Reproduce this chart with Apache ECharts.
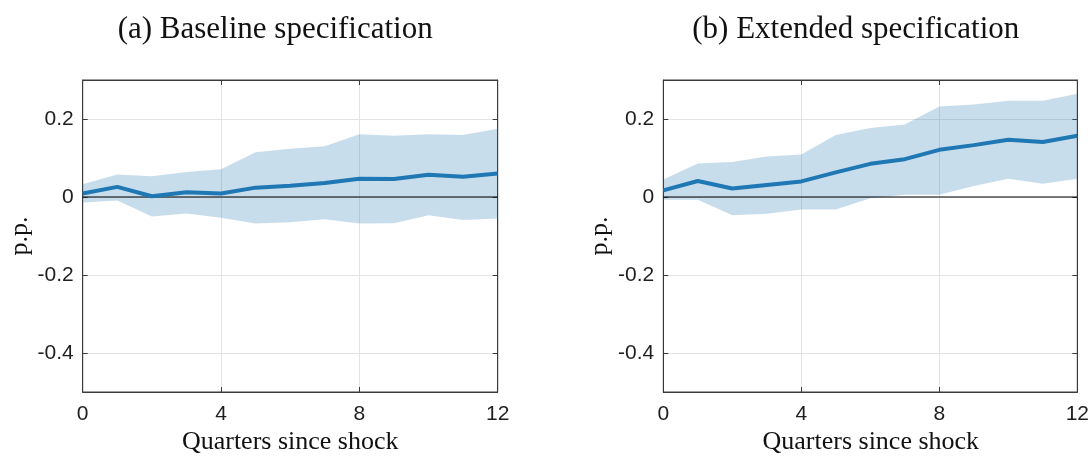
<!DOCTYPE html>
<html><head><meta charset="utf-8">
<script src="https://cdn.jsdelivr.net/npm/echarts@6/dist/echarts.min.js"></script>
<style>html,body{margin:0;padding:0;background:#fff}#c{width:1092px;height:456px}</style>
</head><body><div id="c"></div>
<script>
const quarters = [0,1,2,3,4,5,6,7,8,9,10,11,12];
const xTicks = [0,4,8,12];
const yTicks = [-0.4,-0.2,0,0.2];
const panelTitles = ['(a) Baseline specification','(b) Extended specification'];
const xLabel = 'Quarters since shock';
const yLabel = 'p.p.';

const baseMid   = [0.009,0.026,0.002,0.012,0.009,0.024,0.029,0.036,0.047,0.046,0.057,0.052,0.060];
const baseUpper = [0.033,0.058,0.053,0.064,0.071,0.115,0.124,0.130,0.161,0.157,0.161,0.159,0.175];
const baseLower = [-0.014,-0.009,-0.050,-0.042,-0.053,-0.068,-0.065,-0.057,-0.068,-0.067,-0.047,-0.059,-0.055];

const extMid   = [0.017,0.041,0.022,0.031,0.040,0.063,0.085,0.097,0.121,0.133,0.147,0.141,0.157];
const extUpper = [0.045,0.086,0.090,0.104,0.109,0.159,0.177,0.186,0.232,0.237,0.247,0.247,0.265];
const extLower = [-0.007,-0.007,-0.047,-0.043,-0.032,-0.032,-0.003,0.006,0.006,0.028,0.047,0.034,0.047];

const panels = [
  {mid: baseMid, upper: baseUpper, lower: baseLower, left: 82.7, width: 415},
  {mid: extMid, upper: extUpper, lower: extLower, left: 663.3, width: 415}
];
const TOP = 80, BOTTOM = 392;
const axisColor = '#3a3a3a';
const textColor = '#1e1e1e';
const gridColor = '#e3e3e3';
const lineColor = '#1f77b4';
const bandColor = 'rgba(31,119,180,0.25)';
const sans = 'Liberation Sans';
const serif = 'Liberation Serif';

const grids = [], xAxes = [], yAxes = [], series = [], graphics = [];
panels.forEach((p, k) => {
  grids.push({left: p.left, top: TOP, width: p.width, height: BOTTOM - TOP, show: true,
    borderColor: axisColor, borderWidth: 1, backgroundColor: 'transparent'});
  xAxes.push({type: 'value', gridIndex: k, min: 0, max: 12, interval: 4, position: 'bottom',
    axisLine: {show: true, onZero: false, lineStyle: {color: axisColor, width: 1}},
    axisTick: {show: true, inside: true, length: 5, lineStyle: {color: axisColor}},
    axisLabel: {color: textColor, fontFamily: sans, fontSize: 21, margin: 12},
    splitLine: {show: true, lineStyle: {color: gridColor, width: 1}}});
  xAxes.push({type: 'value', gridIndex: k, min: 0, max: 12, interval: 4, position: 'top',
    axisLine: {show: true, onZero: false, lineStyle: {color: axisColor, width: 1}},
    axisTick: {show: true, inside: true, length: 5, lineStyle: {color: axisColor}},
    axisLabel: {show: false}, splitLine: {show: false}});
  yAxes.push({type: 'value', gridIndex: k, min: -0.5, max: 0.3, position: 'left',
    axisLine: {show: true, onZero: false, lineStyle: {color: axisColor, width: 1}},
    axisTick: {show: true, inside: true, length: 5, customValues: yTicks, lineStyle: {color: axisColor}},
    axisLabel: {color: textColor, fontFamily: sans, fontSize: 21, margin: 9, customValues: yTicks,
      formatter: v => (Math.abs(v) < 1e-9 ? '0' : String(+v.toFixed(1)))},
    splitLine: {show: true, lineStyle: {color: gridColor, width: 1}}});
  yAxes.push({type: 'value', gridIndex: k, min: -0.5, max: 0.3, position: 'right',
    axisLine: {show: true, onZero: false, lineStyle: {color: axisColor, width: 1}},
    axisTick: {show: true, inside: true, length: 5, customValues: yTicks, lineStyle: {color: axisColor}},
    axisLabel: {show: false, customValues: yTicks}, splitLine: {show: false}});
  const xi = k * 2, yi = k * 2;
  const bandRows = quarters.map((q, i) => [q, p.lower[i], p.upper[i]]);
  series.push({type: 'custom', xAxisIndex: xi, yAxisIndex: yi, data: bandRows, silent: true, z: 1,
    encode: {x: 0, y: [1, 2]},
    renderItem: (params, api) => {
      if (params.dataIndex !== 0) return null;
      const up = bandRows.map(r => api.coord([r[0], r[2]]));
      const lo = bandRows.map(r => api.coord([r[0], r[1]])).reverse();
      return {type: 'polygon', shape: {points: up.concat(lo)}, style: {fill: bandColor}};
    }});
  series.push({type: 'line', xAxisIndex: xi, yAxisIndex: yi,
    data: [[0, 0], [12, 0]], symbol: 'none', lineStyle: {color: '#000', width: 1.2}, silent: true, z: 2});
  series.push({type: 'line', xAxisIndex: xi, yAxisIndex: yi,
    data: quarters.map((q, i) => [q, p.mid[i]]), symbol: 'none',
    lineStyle: {color: lineColor, width: 4}, silent: true, z: 3});
  const cx = p.left + p.width / 2;
  graphics.push({type: 'text', x: cx - 15, y: 30, style: {text: panelTitles[k], fill: '#111',
    font: '31px "' + serif + '"', align: 'center', verticalAlign: 'middle'}});
  graphics.push({type: 'text', x: cx, y: 442, style: {text: xLabel, fill: '#111',
    font: '26px "' + serif + '"', align: 'center', verticalAlign: 'middle'}});
  graphics.push({type: 'text', x: p.left - 63, y: (TOP + BOTTOM) / 2, rotation: Math.PI / 2,
    style: {text: yLabel, fill: '#111', font: '26px "' + serif + '"', align: 'center', verticalAlign: 'middle'}});
});

const chart = echarts.init(document.getElementById('c'), null, {renderer: 'canvas'});
chart.setOption({animation: false, backgroundColor: '#fff', grid: grids, xAxis: xAxes, yAxis: yAxes,
  series: series, graphic: graphics});
</script></body></html>
